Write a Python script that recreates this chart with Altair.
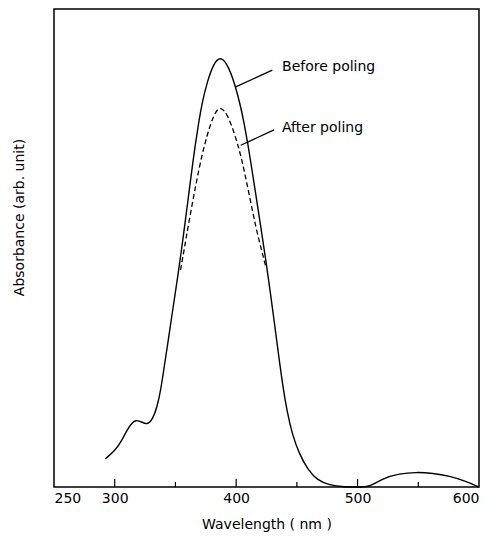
import altair as alt
import pandas as pd

# Solid curve: before poling (wavelength nm, absorbance arb.)
before_wl = [292.3, 300.6, 306.0, 310.2, 317.1, 326.0, 330.8, 334.9, 337.7, 340.4,
             343.2, 346.0, 348.7, 351.6, 354.7, 358.4, 361.1, 364.8, 366.6, 369.3,
             372.1, 376.2, 381.7, 387.7, 394.1, 399.6, 403.8, 406.5, 409.8, 411.4,
             416.1, 420.3, 424.4, 427.9, 434.0, 438.1, 442.2, 446.3, 451.8, 459.3,
             467.0, 476.6, 489.0, 501.4, 509.6, 520.6, 534.4, 548.2, 561.9, 575.7,
             589.4, 600.0]
before_ab = [5.9, 7.7, 9.8, 12.0, 14.6, 12.8, 13.9, 16.7, 20.0, 24.5,
             29.2, 34.0, 38.6, 43.5, 49.0, 56.2, 61.5, 68.8, 72.0, 76.5,
             80.5, 84.8, 88.8, 90.2, 87.8, 83.7, 79.5, 76.2, 71.5, 69.0,
             61.4, 54.4, 47.5, 41.3, 29.5, 21.6, 15.4, 11.0, 7.0, 3.5,
             1.4, 0.4, 0.0, 0.0, 0.0, 1.8, 2.8, 3.1, 2.9, 2.3,
             1.2, 0.0]

# Dashed curve: after poling
after_wl = [354.2, 356.4, 361.1, 366.6, 371.8, 376.2, 379.0, 383.1, 387.2, 392.7,
            398.2, 402.3, 405.1, 410.6, 416.1, 421.6, 424.4]
after_ab = [45.4, 48.5, 55.5, 63.0, 69.5, 73.6, 76.0, 78.6, 79.6, 78.0,
            74.3, 70.8, 68.0, 61.4, 54.4, 48.9, 46.1]

# Annotations
ann_text = ["Before poling", "After poling"]
ann_x = [437.8, 437.8]
ann_y = [87.9, 75.1]
lead_x1 = [399.6, 403.8]
lead_y1 = [83.7, 71.5]
lead_x2 = [429.8, 431.2]
lead_y2 = [87.2, 74.7]

# Axis ticks
tick_major = [300, 400, 500]
tick_minor = [350, 450, 550]
label_values = [250, 300, 400, 500, 600]

W, H = 425, 478
FONT = "DejaVu Sans"

df_before = pd.DataFrame({"wl": before_wl, "ab": before_ab})
df_after = pd.DataFrame({"wl": after_wl, "ab": after_ab})
df_ann = pd.DataFrame({"t": ann_text, "x": ann_x, "y": ann_y})
df_lead = pd.DataFrame({"x": lead_x1, "y": lead_y1, "x2": lead_x2, "y2": lead_y2})
df_major = pd.DataFrame({"x": tick_major})
df_minor = pd.DataFrame({"x": tick_minor})

xscale = alt.Scale(domain=[250, 600], nice=False, zero=False)
yscale = alt.Scale(domain=[0, 100], nice=False)

xaxis = alt.Axis(values=label_values, ticks=False, domain=False, grid=False,
                 labelFont=FONT, labelFontSize=14, labelColor="black", labelPadding=4,
                 title="Wavelength ( nm )", titleFont=FONT, titleFontSize=14,
                 titleFontWeight="normal", titleColor="black", titlePadding=12)
yaxis = alt.Axis(labels=False, ticks=False, domain=False, grid=False,
                 title="Absorbance (arb. unit)", titleFont=FONT, titleFontSize=14,
                 titleFontWeight="normal", titleColor="black",
                 titleX=-35, titleY=208, titleAlign="center", titleBaseline="middle")

before = alt.Chart(df_before).mark_line(color="black", strokeWidth=1.4, interpolate="basis").encode(
    x=alt.X("wl:Q", scale=xscale, axis=xaxis),
    y=alt.Y("ab:Q", scale=yscale, axis=yaxis),
)
after = alt.Chart(df_after).mark_line(color="black", strokeWidth=1.3, strokeDash=[5, 3],
                                      interpolate="basis").encode(
    x=alt.X("wl:Q", scale=xscale),
    y=alt.Y("ab:Q", scale=yscale),
)
leads = alt.Chart(df_lead).mark_rule(color="black", strokeWidth=1.3).encode(
    x="x:Q", y="y:Q", x2="x2:Q", y2="y2:Q"
)
labels = alt.Chart(df_ann).mark_text(align="left", baseline="middle", font=FONT,
                                     fontSize=14, color="black").encode(
    x="x:Q", y="y:Q", text="t:N"
)
major = alt.Chart(df_major).mark_rule(color="black", strokeWidth=1.2).encode(
    x="x:Q", y=alt.value(H), y2=alt.value(H - 8)
)
minor = alt.Chart(df_minor).mark_rule(color="black", strokeWidth=1.2).encode(
    x="x:Q", y=alt.value(H), y2=alt.value(H - 5)
)

chart = alt.layer(before, after, leads, labels, major, minor).properties(
    width=W, height=H,
    background="white",
    autosize=alt.AutoSizeParams(type="none"),
    padding={"left": 46, "top": 1, "right": 11, "bottom": 51},
).configure_view(stroke="black", strokeWidth=1.5)

chart.save("out.html", embed_options={"renderer": "svg", "actions": False})
